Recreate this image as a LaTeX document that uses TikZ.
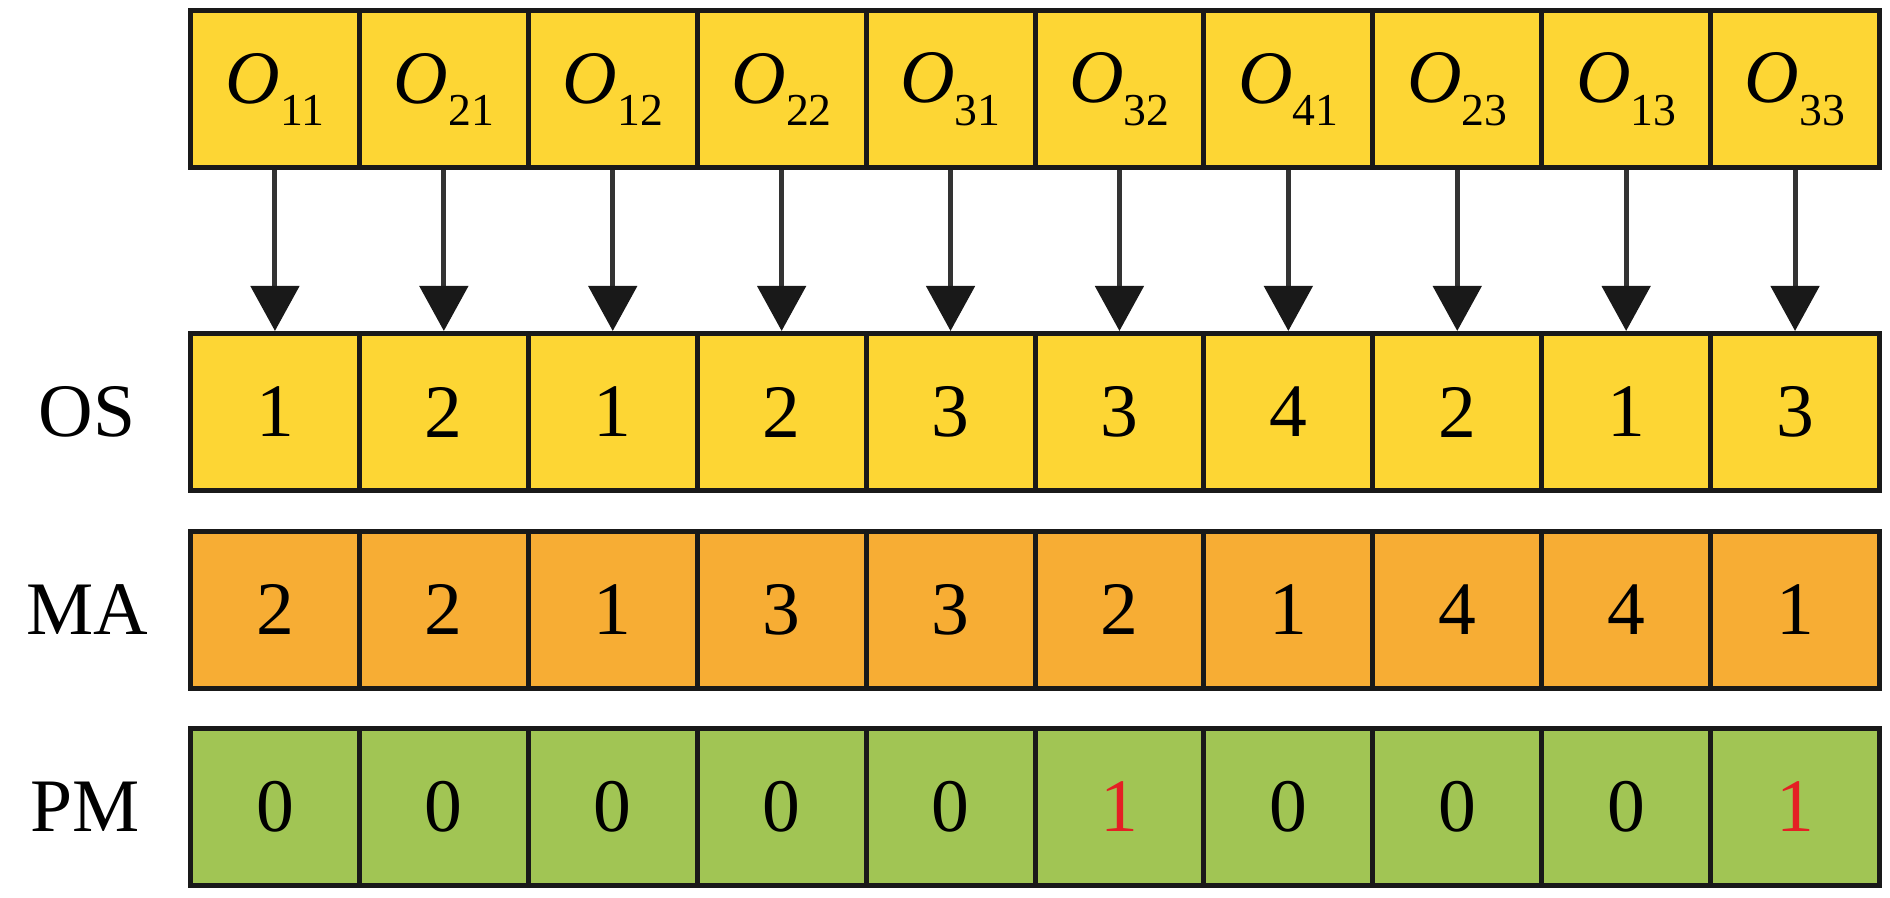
\documentclass[tikz,border=0pt]{standalone}
\usepackage{fontspec}
\setmainfont{Liberation Serif}
\usetikzlibrary{positioning,arrows.meta}

\definecolor{opyellow}{RGB}{253,214,52}
\definecolor{maorange}{RGB}{247,173,52}
\definecolor{pmgreen}{RGB}{161,197,84}
\definecolor{pmred}{RGB}{228,32,36}
\newcommand{\opname}[1]{\textit{O}\raisebox{-6.5pt}{\fontsize{13}{13}\selectfont #1}}

\begin{document}
\begin{tikzpicture}[
    font=\fontsize{21.5}{24}\selectfont,
    cell/.style={rectangle,draw=black!90,line width=0.05cm,
      minimum width=1.689cm,minimum height=1.57cm,inner sep=0pt},
    rowlabel/.style={inner sep=0pt},
    flow/.style={draw=black!80,line width=0.05cm,
      -{Triangle[width=0.48cm,length=0.45cm,color=black!90]}}]
  \useasboundingbox (0,0) rectangle (18.9,8.97);
  % operation row
  \foreach \sub [count=\i] in {11,21,12,22,31,32,41,23,13,33}
    \node[cell,fill=opyellow] (op\i) at ({1.905+1.689*(\i-0.5)},8.075) {\opname{\sub}};
  % operation sequence
  \foreach \v [count=\i] in {1,2,1,2,3,3,4,2,1,3}
    \node[cell,fill=opyellow] (os\i) at ({1.905+1.689*(\i-0.5)},4.85) {\v};
  % machine assignment
  \foreach \v [count=\i] in {2,2,1,3,3,2,1,4,4,1}
    \node[cell,fill=maorange] (ma\i) at ({1.905+1.689*(\i-0.5)},2.875) {\v};
  % preventive maintenance
  \foreach \v [count=\i] in {0,0,0,0,0,1,0,0,0,1} {
    \ifnum\v=1 \def\tc{pmred}\else\def\tc{black}\fi
    \node[cell,fill=pmgreen,text=\tc] (pm\i) at ({1.905+1.689*(\i-0.5)},0.90) {\v};
  }
  \node[rowlabel] (oslabel) at (0.87,4.85) {OS};
  \node[rowlabel] (malabel) at (0.87,2.875) {MA};
  \node[rowlabel] (pmlabel) at (0.85,0.90) {PM};
  \foreach \i in {1,...,10}
    \draw[flow] (op\i.south) -- (os\i.north);
\end{tikzpicture}
\end{document}
